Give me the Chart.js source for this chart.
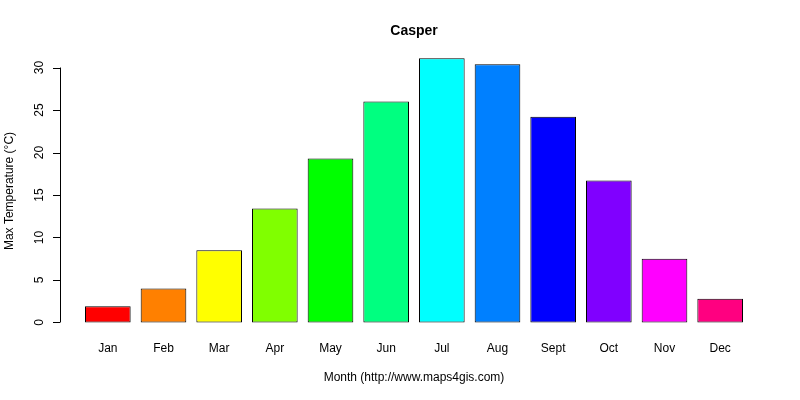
<!DOCTYPE html>
<html>
<head>
<meta charset="utf-8">
<script src="https://cdn.jsdelivr.net/npm/chart.js"></script>
<style>
  body { margin: 0; background: #fff; }
  #wrap { width: 800px; height: 400px; }
</style>
</head>
<body>
<div id="wrap"><canvas id="chart"></canvas></div>
<script>
// Data
const months = ['Jan', 'Feb', 'Mar', 'Apr', 'May', 'Jun', 'Jul', 'Aug', 'Sept', 'Oct', 'Nov', 'Dec'];
const maxTemps = [1.9, 4.0, 8.5, 13.4, 19.3, 26.0, 31.1, 30.4, 24.2, 16.7, 7.5, 2.8];
const yTicks = [0, 5, 10, 15, 20, 25, 30];
const barColors = ['#FF0000', '#FF8000', '#FFFF00', '#80FF00', '#00FF00', '#00FF80',
                   '#00FFFF', '#0080FF', '#0000FF', '#8000FF', '#FF00FF', '#FF0080'];

// R-style axes and text
const rAxes = {
  id: 'rAxes',
  afterDraw(chart) {
    const ctx = chart.ctx;
    const y = chart.scales.y;
    const x = chart.scales.x;
    const axisX = 60;
    ctx.save();
    ctx.strokeStyle = '#000';
    ctx.fillStyle = '#000';
    ctx.lineWidth = 1;
    ctx.beginPath();
    ctx.moveTo(axisX + 0.5, y.getPixelForValue(yTicks[0]));
    ctx.lineTo(axisX + 0.5, y.getPixelForValue(yTicks[yTicks.length - 1]));
    yTicks.forEach(t => {
      const py = Math.round(y.getPixelForValue(t)) + 0.5;
      ctx.moveTo(axisX, py);
      ctx.lineTo(axisX - 7, py);
    });
    ctx.stroke();

    ctx.font = '12px "Liberation Sans", Arial, sans-serif';
    ctx.textAlign = 'center';
    ctx.textBaseline = 'middle';
    yTicks.forEach(t => {
      ctx.save();
      ctx.translate(40, y.getPixelForValue(t));
      ctx.rotate(-Math.PI / 2);
      ctx.fillText(String(t), 0, 0);
      ctx.restore();
    });
    months.forEach((m, i) => {
      ctx.fillText(m, x.getPixelForValue(i), 349);
    });
    ctx.fillText('Month (http://www.maps4gis.com)', 414, 378);
    ctx.save();
    ctx.translate(10, 191);
    ctx.rotate(-Math.PI / 2);
    ctx.fillText('Max Temperature (°C)', 0, 0);
    ctx.restore();
    ctx.font = 'bold 14px "Liberation Sans", Arial, sans-serif';
    ctx.fillText('Casper', 414, 31);
    ctx.restore();
  }
};

new Chart(document.getElementById('chart'), {
  type: 'bar',
  data: {
    labels: months,
    datasets: [{
      data: maxTemps,
      backgroundColor: barColors,
      borderColor: '#000',
      borderWidth: 1,
      borderSkipped: false,
      barPercentage: 0.82,
      categoryPercentage: 1.0
    }]
  },
  options: {
    responsive: true,
    maintainAspectRatio: false,
    animation: false,
    layout: { padding: { left: 0, right: 52, top: 48, bottom: 67 } },
    plugins: { legend: { display: false }, title: { display: false }, tooltip: { enabled: false } },
    scales: {
      x: {
        grid: { display: false },
        border: { display: false },
        ticks: { display: false },
        afterFit(scale) { scale.height = 0; }
      },
      y: {
        min: -1.24,
        max: 32.3,
        grid: { display: false },
        border: { display: false },
        ticks: { display: false },
        afterFit(scale) { scale.width = 80; }
      }
    }
  },
  plugins: [rAxes]
});
</script>
</body>
</html>
